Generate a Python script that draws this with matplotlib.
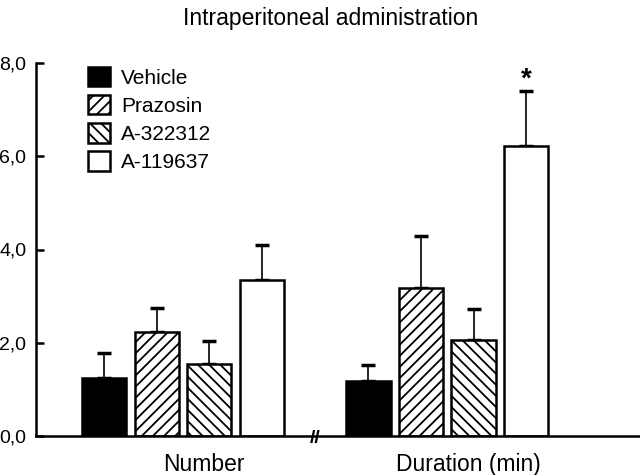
import matplotlib
matplotlib.use("Agg")
import matplotlib.pyplot as plt
import numpy as np

plt.rcParams['font.family'] = ['Liberation Sans', 'DejaVu Sans']
plt.rcParams['hatch.linewidth'] = 1.3

groups = ["Number", "Duration (min)"]
series = ["Vehicle", "Prazosin", "A-322312", "A-119637"]
means = {
    "Vehicle":  [1.25, 1.18],
    "Prazosin": [2.22, 3.17],
    "A-322312": [1.55, 2.05],
    "A-119637": [3.35, 6.22],
}
sems = {
    "Vehicle":  [0.52, 0.35],
    "Prazosin": [0.53, 1.12],
    "A-322312": [0.48, 0.67],
    "A-119637": [0.75, 1.17],
}
yticks = [0, 2, 4, 6, 8]
ytick_labels = ["0,0", "2,0", "4,0", "6,0", "8,0"]
title = "Intraperitoneal administration"

faces = {"Vehicle": "black", "Prazosin": "white", "A-322312": "white", "A-119637": "white"}
hatches = {"Vehicle": None, "Prazosin": "///", "A-322312": "\\\\\\", "A-119637": None}

fig = plt.figure(figsize=(6.4, 4.75), dpi=100)
ax = fig.add_axes([36/640, 39/475, 604/640, 373/475])

group_centers = np.array([2.8, 7.83])
offsets = [-1.5, -0.5, 0.5, 1.5]
width = 0.84

for i, s in enumerate(series):
    x = group_centers + offsets[i]
    ax.bar(x, means[s], width=width, color=faces[s], edgecolor="black",
           linewidth=1.8, hatch=hatches[s], label=s, zorder=2)
    ax.errorbar(x, means[s], yerr=[np.zeros(2), sems[s]], fmt="none",
                ecolor="black", elinewidth=1.2, capsize=5, capthick=2.5, zorder=1)

# significance star
ax.annotate("*", xy=(group_centers[1] + offsets[3], means["A-119637"][1] + sems["A-119637"][1]),
            xytext=(0, -1), textcoords="offset points", ha="center", va="bottom",
            fontsize=20, fontweight="bold")

ax.set_xlim(0, 11.5)
ax.set_ylim(0, 8)
ax.set_yticks(yticks)
ax.set_yticklabels(ytick_labels, fontsize=14)
ax.tick_params(axis="y", direction="in", length=6, width=1.8, pad=7)

label_pos = [(204 - 36) / 52.5, (468 - 36) / 52.5]
ax.set_xticks(label_pos)
ax.set_xticklabels(groups, fontsize=16.5)
ax.tick_params(axis="x", length=0, pad=12)

for sp in ["top", "right"]:
    ax.spines[sp].set_visible(False)
for sp in ["left", "bottom"]:
    ax.spines[sp].set_linewidth(1.8)

# axis break marks
ax.text((315 - 36) / 52.5, -0.05, "//", ha="center", va="center", fontsize=14,
        fontweight="bold", clip_on=False, zorder=5)

ax.legend(loc="upper left", bbox_to_anchor=(44/604, 1.012), frameon=False, fontsize=15,
          handlelength=1.06, handleheight=1.06, labelspacing=0.35, handletextpad=0.5,
          borderaxespad=0)

fig.text(331/640, 1 - 18/475, title, ha="center", va="center", fontsize=16.5)

fig.savefig("out.png", dpi=100)
